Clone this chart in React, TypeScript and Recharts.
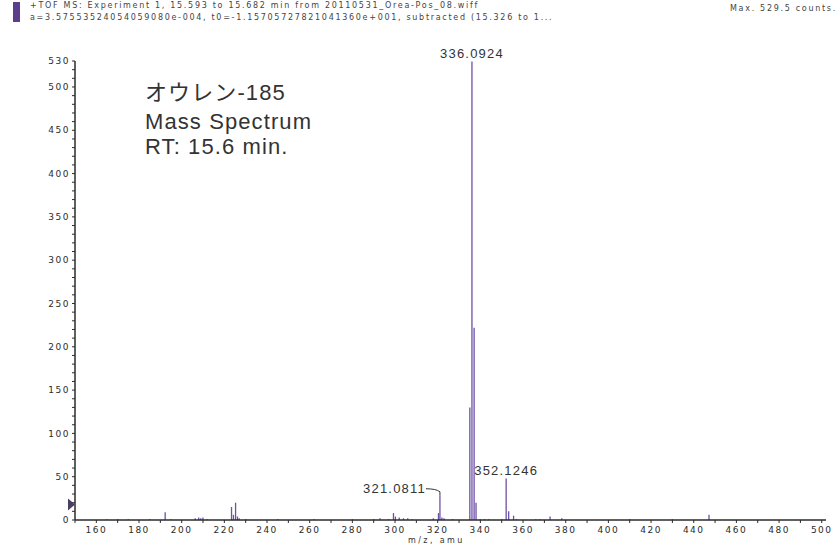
import React from "react";
import {
  ComposedChart,
  Bar,
  XAxis,
  YAxis,
  LabelList,
  ReferenceDot,
} from "recharts";

// m/z values of the peaks (amu)
const peakMz = [
  165, 170, 175, 185, 192.3, 195, 206.4, 208, 209, 210, 212, 223.4, 224.3, 225.3, 226.2, 227,
  230, 245, 262, 280, 290, 293, 297, 299.3, 300.2, 302, 304, 306, 308, 318, 320.4, 321.08,
  322, 323, 327, 335.1, 336.09, 337.1, 338.0, 340, 342, 344, 350, 352.12, 353.3, 355.6, 357,
  366, 368, 372.7, 378.2, 410, 430, 447.2,
];
// intensity (counts)
const peakIntensity = [
  1, 1, 1, 1, 9, 1, 2, 3, 2, 3, 1, 15, 6, 20, 4, 2,
  1, 1, 1, 1, 1, 2, 1, 8, 4, 3, 2, 2, 1, 2, 8, 28,
  3, 2, 1, 130, 529.5, 222, 20, 1, 1, 1, 1, 48, 10, 5, 1,
  1, 1, 4, 2, 1, 1, 6,
];
// labelled peaks
const labelledPeaks = ["321.0811", "336.0924", "352.1246"];

const xTicks = [150, 160, 170, 180, 190, 200, 210, 220, 230, 240, 250, 260, 270, 280, 290, 300, 310, 320, 330, 340, 350, 360, 370, 380, 390, 400, 410, 420, 430, 440, 450, 460, 470, 480, 490, 500];
const yTicks = [0, 10, 20, 30, 40, 50, 60, 70, 80, 90, 100, 110, 120, 130, 140, 150, 160, 170, 180, 190, 200, 210, 220, 230, 240, 250, 260, 270, 280, 290, 300, 310, 320, 330, 340, 350, 360, 370, 380, 390, 400, 410, 420, 430, 440, 450, 460, 470, 480, 490, 500, 510, 520, 530];

const data = peakMz.map((mz, i) => {
  const label = labelledPeaks.find((l) => Math.abs(parseFloat(l) - mz) < 0.05) || "";
  return { mz, intensity: peakIntensity[i], label };
});

const BAR = "#6c52a6";
const INK = "#2b2b2b";
const tickFont = { fontFamily: "DejaVu Sans", fontSize: 9, fill: INK, letterSpacing: 1.5 };
const headerStyle: React.CSSProperties = {
  position: "absolute",
  fontFamily: "DejaVu Sans",
  fontSize: 8,
  letterSpacing: 1.7,
  color: "#444",
  lineHeight: "10px",
  whiteSpace: "nowrap",
  zIndex: 2,
};
const noteStyle: React.CSSProperties = {
  position: "absolute",
  left: 145,
  fontFamily: "Liberation Sans, 'Noto Sans CJK JP'",
  fontSize: 22,
  letterSpacing: 1.1,
  color: "#333",
  lineHeight: "26px",
  whiteSpace: "nowrap",
  zIndex: 2,
};

const PeakLabel = (props: any) => {
  const { x, y, width, value } = props;
  if (!value) return null;
  const cx = x + width / 2;
  const style = { fontFamily: "Liberation Sans, Arial", fontSize: 13, fill: "#333", letterSpacing: 1.2 };
  if (value === "321.0811") {
    return (
      <g>
        <text x={cx - 14} y={y - 3} textAnchor="end" style={style}>{value}</text>
        <path d={`M${cx - 14},${y - 7} Q${cx - 4},${y - 7} ${cx},${y - 4} L${cx},${y}`} stroke="#333" fill="none" strokeWidth={1} />
      </g>
    );
  }
  return (
    <text x={cx} y={y - 3} textAnchor="middle" style={style}>{value}</text>
  );
};

const Marker = (props: any) => {
  const { cx, cy } = props;
  return <path d={`M${cx - 7},${cy - 6} L${cx},${cy} L${cx - 7},${cy + 6} Z`} fill="#4a3d66" />;
};

export default function App() {
  return (
    <div style={{ position: "absolute", left: 0, top: 0, width: 840, height: 549, background: "#fff" }}>
      {/* header */}
      <div style={{ position: "absolute", left: 13, top: 2, width: 7, height: 20, background: "#5b3f8c", zIndex: 2 }} />
      <div style={{ ...headerStyle, left: 30, top: 1 }}>
        +TOF MS: Experiment 1, 15.593 to 15.682 min from 20110531_Orea-Pos_08.wiff
      </div>
      <div style={{ ...headerStyle, left: 30, top: 13 }}>
        a=3.57553524054059080e-004, t0=-1.15705727821041360e+001, subtracted (15.326 to 1...
      </div>
      <div style={{ ...headerStyle, left: 730, top: 4 }}>Max. 529.5 counts.</div>

      <div style={{ position: "absolute", left: 0, top: 0, zIndex: 1 }}>
        <ComposedChart width={840} height={549} data={data} margin={{ top: 61, right: 14, bottom: 9, left: 30 }}>
          <XAxis
            dataKey="mz"
            type="number"
            domain={[150, 502]}
            ticks={xTicks}
            allowDataOverflow
            tickSize={3}
            tickLine={{ stroke: INK }}
            axisLine={{ stroke: INK, strokeWidth: 1.5 }}
            tick={{ ...tickFont, dy: 2 }}
            tickFormatter={(v: number) => (v % 20 === 0 ? String(v) : "")}
            interval={0}
            height={20}
          />
          <YAxis
            type="number"
            domain={[0, 530]}
            ticks={yTicks}
            allowDataOverflow
            tickSize={3}
            tickLine={{ stroke: INK }}
            axisLine={{ stroke: INK, strokeWidth: 1.5 }}
            tick={tickFont}
            tickFormatter={(v: number) => (v % 50 === 0 || v === 530 ? String(v) : "")}
            interval={0}
            width={45}
          />
          <Bar dataKey="intensity" fill={BAR} barSize={2} isAnimationActive={false}>
            <LabelList dataKey="label" content={PeakLabel} />
          </Bar>
          <ReferenceDot x={150} y={18} r={0} ifOverflow="visible" shape={Marker} />
        </ComposedChart>
      </div>

      {/* annotation */}
      <div style={{ ...noteStyle, top: 80 }}>オウレン-185</div>
      <div style={{ ...noteStyle, top: 109 }}>Mass Spectrum</div>
      <div style={{ ...noteStyle, top: 134 }}>RT: 15.6 min.</div>

      <div style={{ ...headerStyle, left: 408, top: 536, color: "#333", letterSpacing: 2.4 }}>m/z, amu</div>
    </div>
  );
}
